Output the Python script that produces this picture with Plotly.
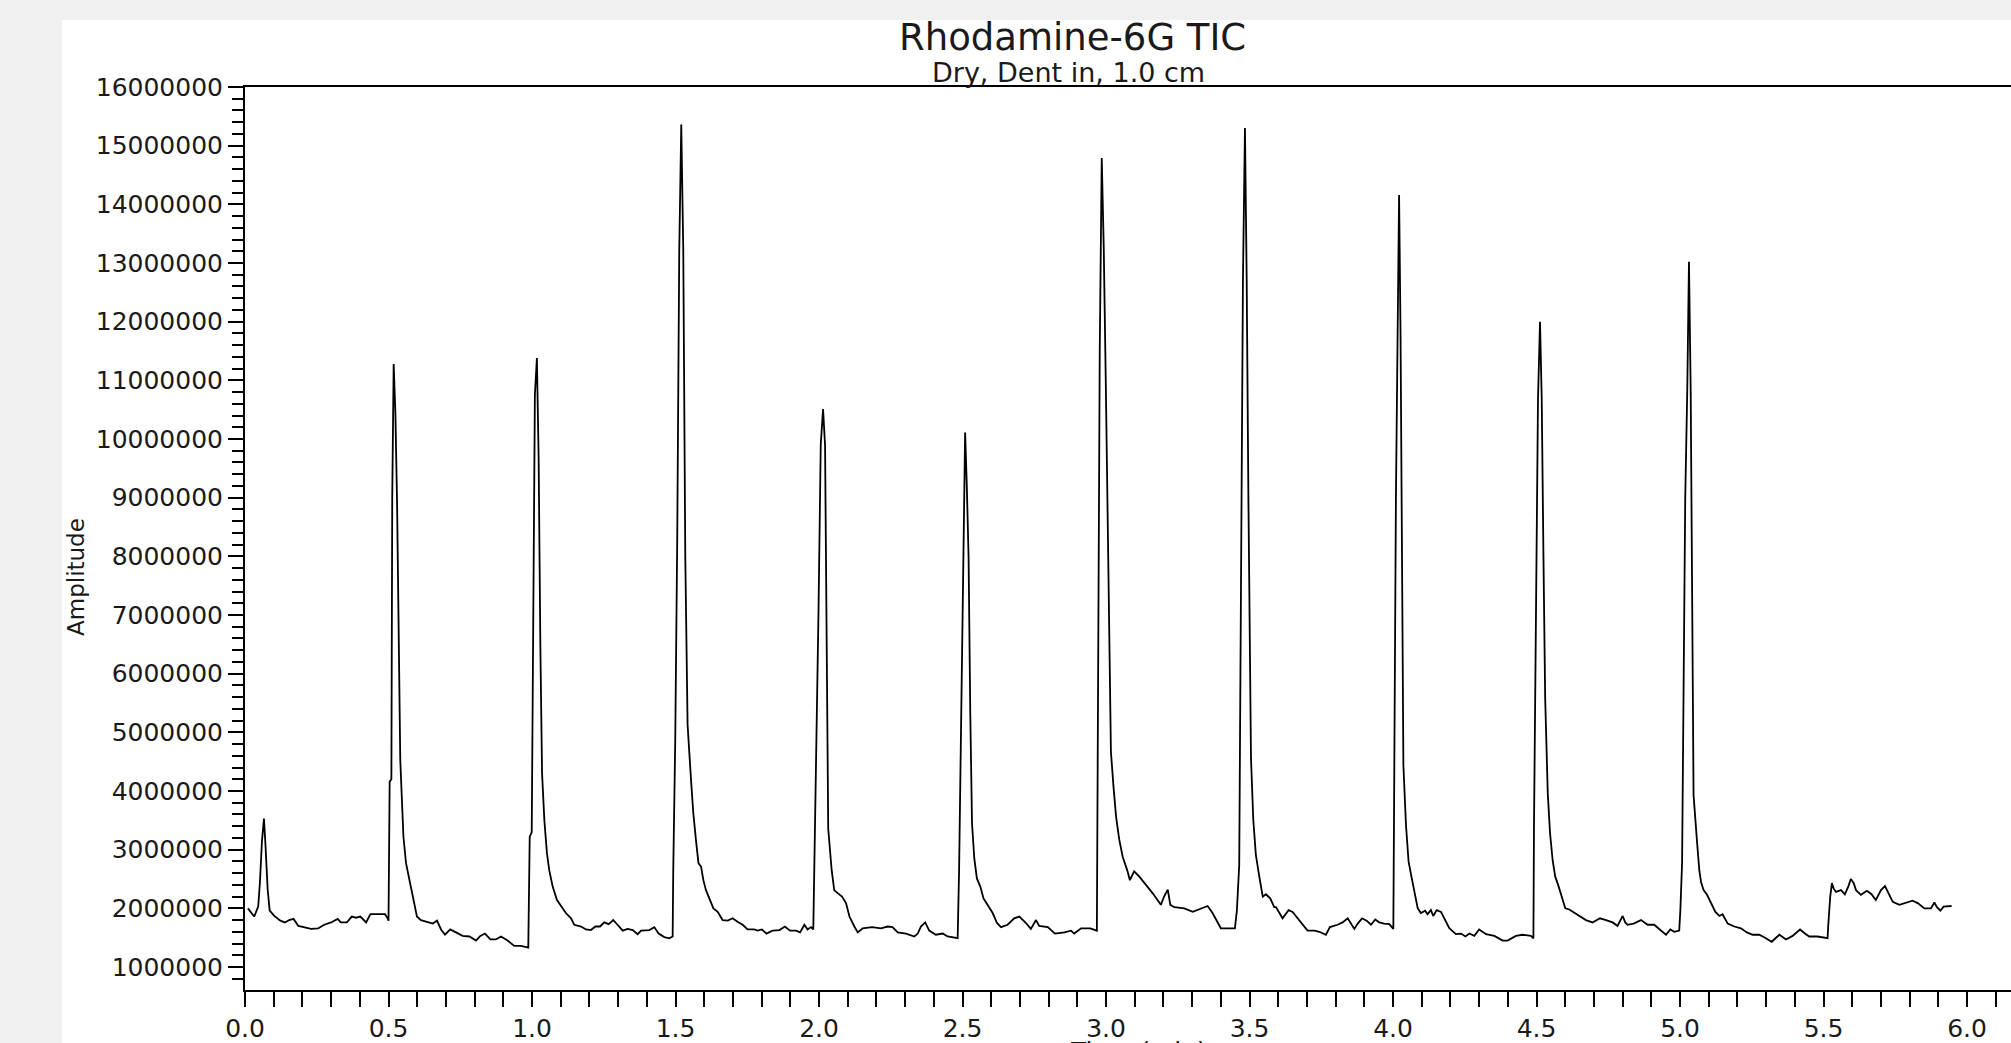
import plotly.graph_objects as go

# Retention time (min) and total ion current amplitude
time_min = [
    0.010, 0.032, 0.046, 0.052, 0.059, 0.066, 0.071, 0.079, 0.086, 0.102, 0.123, 0.139, 0.154, 0.169,
    0.186, 0.207, 0.230, 0.255, 0.276, 0.300, 0.323, 0.334, 0.355, 0.372, 0.387, 0.402, 0.422, 0.437,
    0.462, 0.488, 0.497, 0.500,
    0.504, 0.510, 0.513, 0.518, 0.524, 0.530, 0.541, 0.552, 0.561, 0.573, 0.584, 0.599, 0.613, 0.636,
    0.654, 0.669, 0.683, 0.697, 0.715, 0.735, 0.758, 0.782, 0.805, 0.820, 0.836, 0.855, 0.874, 0.892,
    0.915, 0.938, 0.962, 0.987,
    0.992, 0.999, 1.004, 1.010, 1.017, 1.023, 1.029, 1.035, 1.043, 1.052, 1.060, 1.072, 1.087, 1.101,
    1.118, 1.136, 1.147, 1.171, 1.188, 1.205, 1.221, 1.237, 1.252, 1.267, 1.283, 1.298, 1.316, 1.333,
    1.351, 1.368, 1.380, 1.409, 1.426, 1.441, 1.461, 1.478, 1.490,
    1.492, 1.499, 1.506, 1.513, 1.520, 1.527, 1.534, 1.542, 1.554, 1.562, 1.571, 1.580, 1.589, 1.597,
    1.606, 1.618, 1.632, 1.647, 1.664, 1.682, 1.699, 1.716, 1.734, 1.751, 1.774, 1.786, 1.801, 1.817,
    1.838, 1.862, 1.881, 1.899, 1.920, 1.934, 1.949, 1.960, 1.972, 1.980,
    1.984, 1.990, 1.998, 2.006, 2.014, 2.021, 2.027, 2.032, 2.044, 2.053, 2.065, 2.080, 2.094, 2.106,
    2.123, 2.135, 2.152, 2.185, 2.216, 2.239, 2.256, 2.274, 2.303, 2.332, 2.344, 2.355, 2.370, 2.384,
    2.407, 2.431, 2.448, 2.483,
    2.488, 2.495, 2.502, 2.509, 2.515, 2.521, 2.527, 2.533, 2.541, 2.550, 2.562, 2.573, 2.587, 2.605,
    2.620, 2.634, 2.657, 2.680, 2.698, 2.721, 2.738, 2.756, 2.767, 2.797, 2.822, 2.855, 2.878, 2.889,
    2.913, 2.945, 2.968,
    2.971, 2.978, 2.985, 2.992, 2.999, 3.006, 3.012, 3.017, 3.026, 3.035, 3.046, 3.058, 3.075, 3.083,
    3.098, 3.116, 3.139, 3.162, 3.191, 3.203, 3.215, 3.224, 3.238, 3.273, 3.302, 3.331, 3.354, 3.371,
    3.400, 3.449, 3.456,
    3.464, 3.470, 3.477, 3.484, 3.490, 3.496, 3.501, 3.505, 3.513, 3.522, 3.534, 3.546, 3.557, 3.572,
    3.586, 3.592, 3.615, 3.636, 3.650, 3.668, 3.685, 3.702, 3.726, 3.743, 3.766, 3.780, 3.807, 3.824,
    3.842, 3.853, 3.865, 3.877, 3.892, 3.908, 3.923, 3.938, 3.952, 3.969, 3.987, 4.001,
    4.004, 4.010, 4.016, 4.021, 4.026, 4.031, 4.036, 4.045, 4.054, 4.064, 4.074, 4.086, 4.097, 4.112,
    4.120, 4.132, 4.140, 4.152, 4.167, 4.178, 4.196, 4.219, 4.237, 4.252, 4.266, 4.283, 4.300, 4.324,
    4.353, 4.382, 4.399, 4.428, 4.451, 4.480, 4.489,
    4.491, 4.498, 4.505, 4.512, 4.518, 4.524, 4.530, 4.539, 4.547, 4.556, 4.565, 4.577, 4.585, 4.600,
    4.614, 4.631, 4.655, 4.672, 4.695, 4.721, 4.742, 4.765, 4.782, 4.794, 4.800, 4.809, 4.817, 4.838,
    4.864, 4.887, 4.910, 4.931, 4.951, 4.966, 4.980, 4.997, 5.001, 5.007,
    5.012, 5.018, 5.025, 5.031, 5.037, 5.042, 5.047, 5.059, 5.067, 5.073, 5.082, 5.094, 5.108, 5.123,
    5.137, 5.148, 5.166, 5.189, 5.212, 5.233, 5.253, 5.276, 5.299, 5.319, 5.346, 5.369, 5.392, 5.418,
    5.435, 5.450, 5.479, 5.514,
    5.516, 5.523, 5.529, 5.535, 5.543, 5.561, 5.574, 5.586, 5.595, 5.605, 5.613, 5.630, 5.651, 5.667,
    5.682, 5.700, 5.714, 5.723, 5.741, 5.764, 5.787, 5.810, 5.828, 5.851, 5.874, 5.886, 5.895, 5.907,
    5.918, 5.946,
]

amplitude = [
    2.00e6, 1.86e6, 2.03e6, 2.44e6, 3.14e6, 3.53e6, 3.11e6, 2.32e6, 1.96e6, 1.87e6, 1.79e6, 1.76e6, 1.80e6, 1.82e6,
    1.70e6, 1.67e6, 1.65e6, 1.66e6, 1.72e6, 1.76e6, 1.82e6, 1.76e6, 1.76e6, 1.86e6, 1.84e6, 1.86e6, 1.76e6, 1.90e6,
    1.90e6, 1.90e6, 1.83e6, 1.79e6,
    4.16e6, 4.20e6, 9.00e6, 11.28e6, 10.44e6, 8.85e6, 4.53e6, 3.22e6, 2.77e6, 2.48e6, 2.20e6, 1.86e6, 1.80e6, 1.77e6,
    1.74e6, 1.79e6, 1.64e6, 1.55e6, 1.64e6, 1.59e6, 1.53e6, 1.52e6, 1.45e6, 1.53e6, 1.57e6, 1.47e6, 1.47e6, 1.52e6,
    1.45e6, 1.36e6, 1.36e6, 1.33e6,
    3.22e6, 3.30e6, 7.00e6, 10.75e6, 11.38e6, 9.70e6, 6.50e6, 4.30e6, 3.50e6, 2.94e6, 2.65e6, 2.37e6, 2.14e6, 2.03e6,
    1.92e6, 1.83e6, 1.72e6, 1.69e6, 1.64e6, 1.63e6, 1.69e6, 1.69e6, 1.76e6, 1.73e6, 1.80e6, 1.72e6, 1.62e6, 1.65e6,
    1.63e6, 1.56e6, 1.62e6, 1.63e6, 1.68e6, 1.57e6, 1.51e6, 1.49e6, 1.52e6,
    2.63e6, 4.84e6, 8.30e6, 13.20e6, 15.36e6, 13.22e6, 8.00e6, 5.13e6, 4.19e6, 3.62e6, 3.17e6, 2.77e6, 2.71e6, 2.48e6,
    2.31e6, 2.17e6, 2.00e6, 1.94e6, 1.80e6, 1.79e6, 1.83e6, 1.77e6, 1.72e6, 1.64e6, 1.64e6, 1.62e6, 1.64e6, 1.57e6,
    1.62e6, 1.63e6, 1.69e6, 1.62e6, 1.62e6, 1.59e6, 1.72e6, 1.64e6, 1.68e6, 1.64e6,
    2.71e6, 4.84e6, 7.00e6, 9.90e6, 10.51e6, 9.90e6, 6.00e6, 3.36e6, 2.65e6, 2.31e6, 2.26e6, 2.20e6, 2.09e6, 1.86e6,
    1.69e6, 1.59e6, 1.66e6, 1.68e6, 1.66e6, 1.69e6, 1.68e6, 1.59e6, 1.57e6, 1.52e6, 1.57e6, 1.69e6, 1.76e6, 1.62e6,
    1.55e6, 1.57e6, 1.52e6, 1.49e6,
    2.65e6, 5.01e6, 8.00e6, 10.11e6, 9.18e6, 8.00e6, 5.32e6, 3.45e6, 2.85e6, 2.51e6, 2.37e6, 2.17e6, 2.06e6, 1.92e6,
    1.75e6, 1.68e6, 1.72e6, 1.83e6, 1.86e6, 1.75e6, 1.65e6, 1.80e6, 1.70e6, 1.68e6, 1.57e6, 1.59e6, 1.62e6, 1.57e6,
    1.66e6, 1.66e6, 1.62e6,
    4.90e6, 11.47e6, 14.79e6, 13.26e6, 11.00e6, 8.50e6, 6.00e6, 4.67e6, 4.07e6, 3.56e6, 3.17e6, 2.88e6, 2.63e6, 2.48e6,
    2.63e6, 2.54e6, 2.40e6, 2.26e6, 2.06e6, 2.21e6, 2.32e6, 2.06e6, 2.02e6, 2.00e6, 1.94e6, 2.00e6, 2.04e6, 1.92e6,
    1.66e6, 1.66e6, 1.97e6,
    2.74e6, 8.00e6, 12.72e6, 15.30e6, 12.72e6, 9.00e6, 6.00e6, 4.56e6, 3.51e6, 2.91e6, 2.54e6, 2.20e6, 2.24e6, 2.17e6,
    2.02e6, 2.02e6, 1.83e6, 1.97e6, 1.94e6, 1.83e6, 1.72e6, 1.62e6, 1.62e6, 1.60e6, 1.55e6, 1.68e6, 1.72e6, 1.76e6,
    1.83e6, 1.74e6, 1.65e6, 1.74e6, 1.83e6, 1.79e6, 1.72e6, 1.81e6, 1.76e6, 1.74e6, 1.73e6, 1.65e6,
    4.76e6, 9.00e6, 11.84e6, 14.16e6, 11.84e6, 7.50e6, 4.44e6, 3.42e6, 2.80e6, 2.54e6, 2.31e6, 2.00e6, 1.92e6, 1.96e6,
    1.90e6, 1.97e6, 1.87e6, 1.97e6, 1.94e6, 1.83e6, 1.66e6, 1.56e6, 1.57e6, 1.52e6, 1.57e6, 1.53e6, 1.64e6, 1.56e6,
    1.53e6, 1.45e6, 1.45e6, 1.53e6, 1.55e6, 1.53e6, 1.49e6,
    3.39e6, 7.00e6, 10.68e6, 12.00e6, 10.68e6, 8.00e6, 5.58e6, 3.96e6, 3.28e6, 2.82e6, 2.54e6, 2.37e6, 2.23e6, 2.00e6,
    1.98e6, 1.93e6, 1.86e6, 1.80e6, 1.76e6, 1.83e6, 1.80e6, 1.76e6, 1.70e6, 1.83e6, 1.87e6, 1.76e6, 1.72e6, 1.74e6,
    1.80e6, 1.72e6, 1.72e6, 1.63e6, 1.55e6, 1.64e6, 1.60e6, 1.62e6, 1.97e6, 2.77e6,
    5.58e6, 9.00e6, 10.82e6, 13.02e6, 10.82e6, 6.50e6, 3.93e6, 3.14e6, 2.65e6, 2.45e6, 2.31e6, 2.23e6, 2.09e6, 1.94e6,
    1.87e6, 1.90e6, 1.74e6, 1.69e6, 1.66e6, 1.59e6, 1.55e6, 1.55e6, 1.49e6, 1.43e6, 1.55e6, 1.47e6, 1.53e6, 1.64e6,
    1.57e6, 1.52e6, 1.52e6, 1.49e6,
    1.69e6, 2.19e6, 2.43e6, 2.34e6, 2.28e6, 2.31e6, 2.24e6, 2.37e6, 2.50e6, 2.43e6, 2.31e6, 2.23e6, 2.30e6, 2.24e6,
    2.14e6, 2.31e6, 2.38e6, 2.28e6, 2.11e6, 2.06e6, 2.09e6, 2.13e6, 2.09e6, 2.00e6, 2.00e6, 2.10e6, 2.02e6, 1.96e6,
    2.03e6, 2.04e6,
]

title_text = "Rhodamine-6G TIC"
subtitle_text = "Dry, Dent in, 1.0 cm"
x_title = "Time (min)"
y_title = "Amplitude"

FONT = "DejaVu Sans"
TXT = "#1a1a1a"

fig = go.Figure(
    go.Scatter(x=time_min, y=amplitude, mode="lines",
               line=dict(color="black", width=1.8), hoverinfo="skip")
)

W, H = 2011, 1043
L, R, T, B = 245, 0, 87, 53
PW, PH = W - L - R, H - T - B

def px_x(x):
    return (x - L) / PW

def px_y(y):
    return (H - B - y) / PH

fig.update_layout(
    width=W, height=H,
    margin=dict(l=L, r=R, t=T, b=B, pad=0),
    paper_bgcolor="#f0f0f0",
    plot_bgcolor="white",
    showlegend=False,
    font=dict(family=FONT, color=TXT),
    shapes=[dict(type="rect", xref="paper", yref="paper",
                 x0=px_x(62), x1=1.05, y0=-0.2, y1=px_y(20),
                 fillcolor="white", line=dict(width=0), layer="below")],
    annotations=[
        dict(text=title_text, xref="paper", yref="paper", x=px_x(1072), y=px_y(38),
             xanchor="center", yanchor="middle", showarrow=False,
             font=dict(family=FONT, size=37, color=TXT)),
        dict(text=subtitle_text, xref="paper", yref="paper", x=px_x(1068), y=px_y(72),
             xanchor="center", yanchor="middle", showarrow=False,
             font=dict(family=FONT, size=27, color=TXT)),
        dict(text=y_title, xref="paper", yref="paper", x=px_x(76), y=px_y(577),
             xanchor="center", yanchor="middle", textangle=-90, showarrow=False,
             font=dict(family=FONT, size=23, color=TXT)),
        dict(text=x_title, xref="paper", yref="paper", x=px_x(1138), y=px_y(1035),
             xanchor="center", yanchor="top", showarrow=False,
             font=dict(family=FONT, size=25, color=TXT)),
    ],
)

fig.update_xaxes(
    range=[0, 6.153], showgrid=False, zeroline=False,
    showline=True, linecolor="black", linewidth=2, mirror=True,
    ticks="outside", ticklen=15, tickwidth=2, tickcolor="black",
    tick0=0, dtick=0.5, tickformat=".1f",
    tickfont=dict(family=FONT, size=25, color=TXT),
    minor=dict(tick0=0, dtick=0.1, ticks="outside", ticklen=15, tickwidth=2,
               tickcolor="black", showgrid=False),
    automargin=False,
)

fig.update_yaxes(
    range=[608000, 16000000], showgrid=False, zeroline=False,
    showline=True, linecolor="black", linewidth=2, mirror=False,
    ticks="outside", ticklen=15, tickwidth=2, tickcolor="black",
    tick0=0, dtick=1000000, tickformat="d",
    tickfont=dict(family=FONT, size=25, color=TXT),
    minor=dict(tick0=0, dtick=200000, ticks="outside", ticklen=11, tickwidth=2,
               tickcolor="black", showgrid=False),
    automargin=False,
)

fig.write_html(
    "out.html",
    config={"displayModeBar": False},
    post_script="document.body.style.margin='0';document.body.style.overflow='hidden';",
)
